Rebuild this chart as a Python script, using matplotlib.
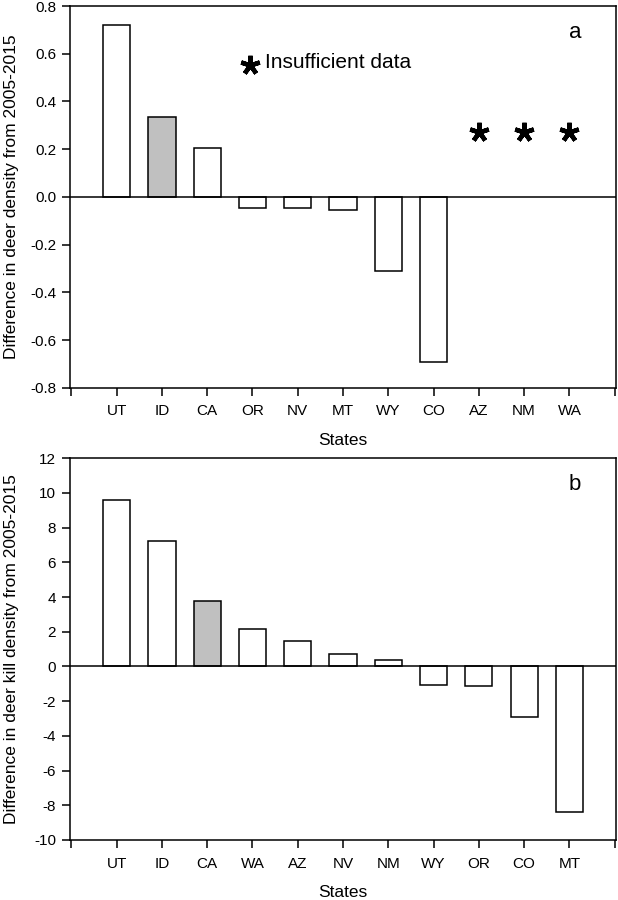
import numpy as np
import matplotlib
matplotlib.use('Agg')
import matplotlib.pyplot as plt

plt.rcParams['font.family'] = ['Liberation Sans', 'DejaVu Sans']
plt.rcParams['axes.unicode_minus'] = False

# panel a - deer density
states_a = ['UT', 'ID', 'CA', 'OR', 'NV', 'MT', 'WY', 'CO', 'AZ', 'NM', 'WA']
density_diff = [0.719, 0.333, 0.206, -0.046, -0.047, -0.055, -0.31, -0.692]
missing_a = ['AZ', 'NM', 'WA']
missing_y = 0.27
highlight_a = 'ID'
yticks_a = [-0.8, -0.6, -0.4, -0.2, 0.0, 0.2, 0.4, 0.6, 0.8]

# panel b - deer kill density
states_b = ['UT', 'ID', 'CA', 'WA', 'AZ', 'NV', 'NM', 'WY', 'OR', 'CO', 'MT']
kill_diff = [9.58, 7.26, 3.78, 2.15, 1.48, 0.73, 0.35, -1.05, -1.11, -2.94, -8.38]
highlight_b = 'CA'
yticks_b = [-10, -8, -6, -4, -2, 0, 2, 4, 6, 8, 10, 12]

gray = '#c0c0c0'
lw = 1.1

fig = plt.figure(figsize=(6.18, 9), dpi=100)
ax1 = fig.add_axes([0.1133, 0.5692, 0.8835, 0.4241])
ax2 = fig.add_axes([0.1133, 0.0667, 0.8835, 0.4241])


def style_axis(ax, states, yticks, ylabels, ylabel, letter):
    n = len(states)
    ax.set_xlim(-0.03, n + 1.03)
    ax.set_ylim(yticks[0], yticks[-1])
    ax.set_yticks(yticks)
    ax.set_yticklabels(ylabels)
    ax.set_xticks(np.arange(0, n + 2))
    ax.set_xticklabels([''] + states + [''])
    ax.tick_params(axis='both', direction='out', length=6, width=lw,
                   labelsize=11, colors='black')
    ax.tick_params(axis='x', pad=6)
    ax.tick_params(axis='y', pad=4)
    for s in ax.spines.values():
        s.set_linewidth(lw)
    ax.axhline(0, color='black', lw=lw, zorder=3)
    ax.set_xlabel('States', fontsize=12.5)
    ax.xaxis.set_label_coords(0.5, -0.118)
    ax.set_ylabel(ylabel, fontsize=12.5)
    ax.yaxis.set_label_coords(-0.093, 0.5)
    ax.text(0.925, 0.93, letter, transform=ax.transAxes, fontsize=16,
            ha='center', va='center')


# panel a
x_a = np.arange(1, len(density_diff) + 1)
cols_a = [gray if s == highlight_a else 'white' for s in states_a[:len(density_diff)]]
ax1.bar(x_a, density_diff, width=0.6, color=cols_a, edgecolor='black',
        linewidth=lw, zorder=2)
x_miss = [states_a.index(s) + 1 for s in missing_a]
ax1.plot(x_miss, [missing_y] * len(x_miss), linestyle='none',
         marker=(5, 2, 0), markersize=14, markeredgewidth=3.2, color='black')
ax1.plot([3.95], [0.553], linestyle='none', marker=(5, 2, 0), markersize=14,
         markeredgewidth=3.2, color='black')
ax1.text(4.28, 0.565, 'Insufficient data', fontsize=15, ha='left', va='center')
style_axis(ax1, states_a, yticks_a, ['%.1f' % v for v in yticks_a],
           'Difference in deer density from 2005-2015', 'a')

# panel b
x_b = np.arange(1, len(kill_diff) + 1)
cols_b = [gray if s == highlight_b else 'white' for s in states_b]
ax2.bar(x_b, kill_diff, width=0.6, color=cols_b, edgecolor='black',
        linewidth=lw, zorder=2)
style_axis(ax2, states_b, yticks_b, [str(v) for v in yticks_b],
           'Difference in deer kill density from 2005-2015', 'b')

fig.savefig('out.png', dpi=100)
